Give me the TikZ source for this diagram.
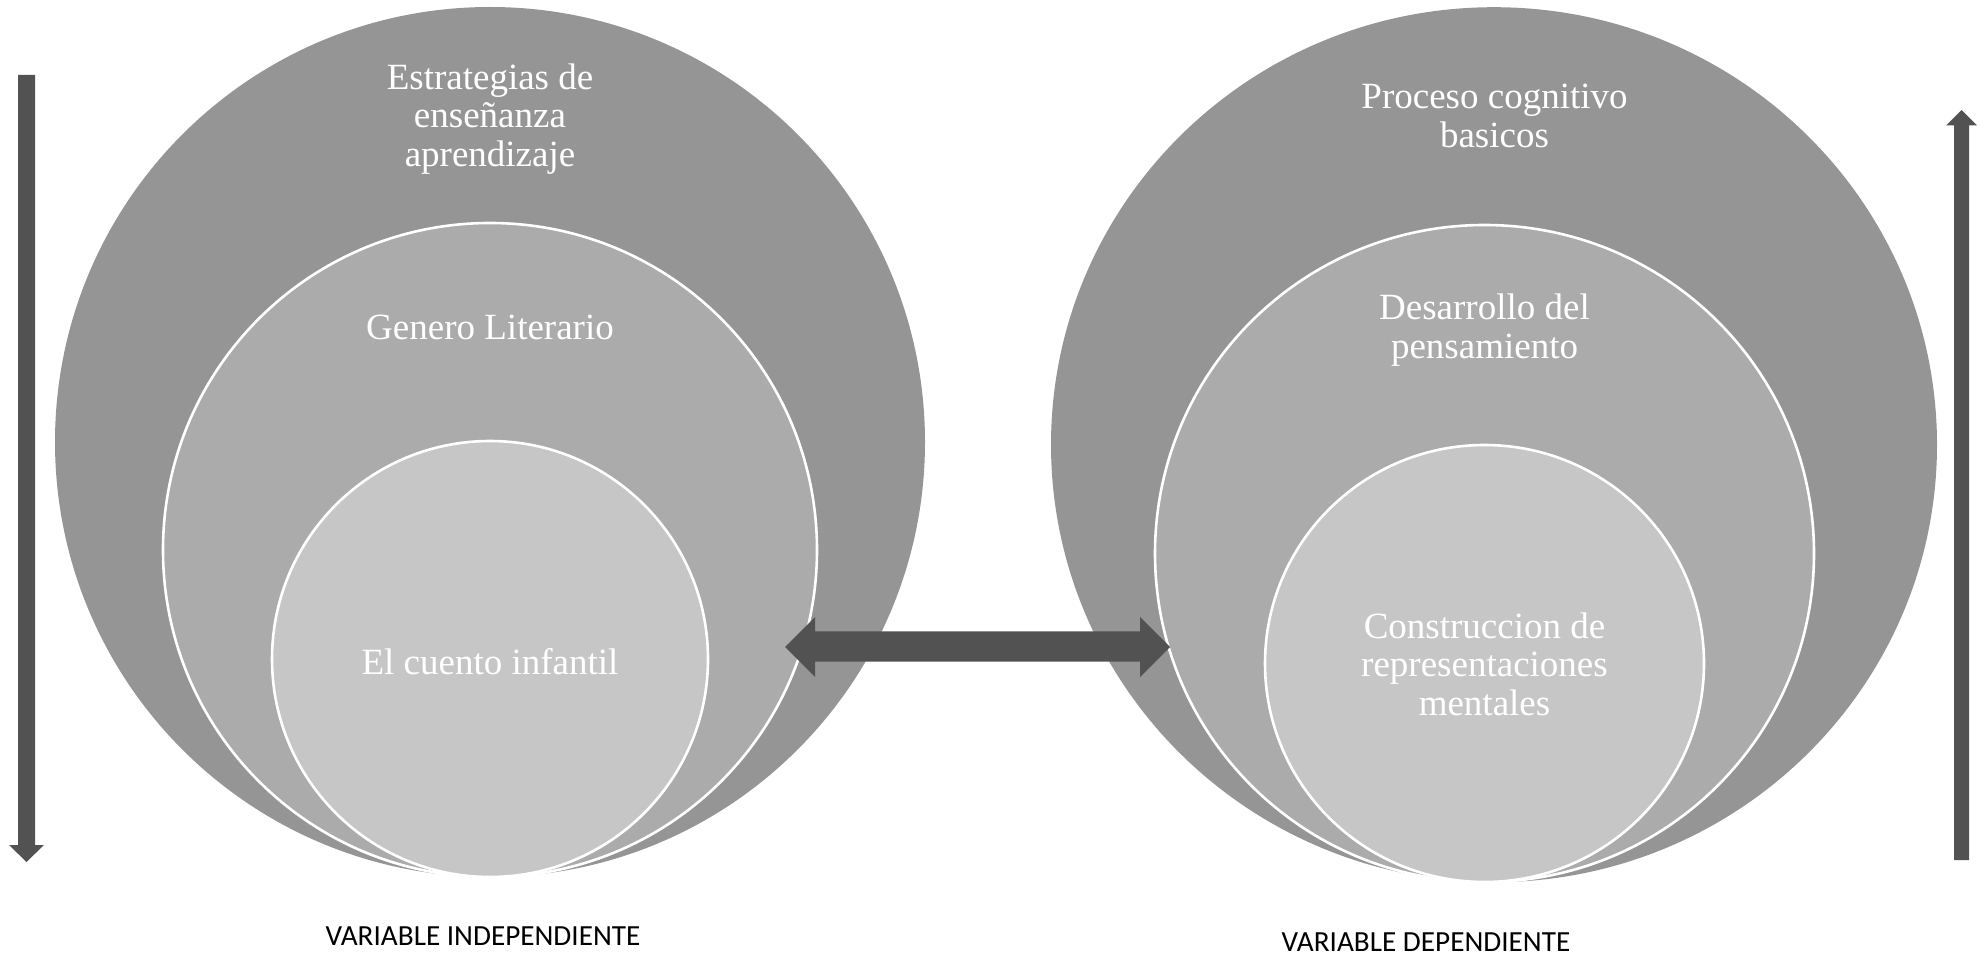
\documentclass[tikz,border=0pt]{standalone}
\usepackage{fontspec}
\setmainfont{Liberation Serif}
\newfontfamily\labelfont{Carlito}
\usetikzlibrary{shapes.geometric}
\definecolor{outerg}{HTML}{959595}
\definecolor{midg}{HTML}{ABABAB}
\definecolor{inng}{HTML}{C6C6C6}
\definecolor{arrg}{HTML}{525252}
\begin{document}
\begin{tikzpicture}[x=0.5pt,y=-0.5pt,
  outerring/.style={ellipse, fill=outerg, inner sep=0pt, draw=none},
  midring/.style={ellipse, fill=midg, inner sep=0pt, draw=white, line width=1.3pt},
  innring/.style={ellipse, fill=inng, inner sep=0pt, draw=white, line width=1.3pt},
  circlabel/.style={text=white, align=center, font=\fontsize{18.5}{19.25}\selectfont, inner sep=0pt},
  varlabel/.style={font=\labelfont\fontsize{14.6}{17}\selectfont, text=black, inner sep=0pt},
  arrowfill/.style={fill=arrg, draw=none}]
\useasboundingbox (0,0) rectangle (1981,956);

% left target
\node (L1) [outerring, minimum width=435pt, minimum height=435pt] at (490,442) {};
\node (L2) [midring, minimum width=327pt, minimum height=327pt] at (490,550) {};
\node (L3) [innring, minimum width=218pt, minimum height=218pt] at (490,659) {};

% right target
\node (R1) [outerring, minimum width=443pt, minimum height=437.5pt] at (1494,444.7) {};
\node (R2) [midring, minimum width=329.5pt, minimum height=328.5pt] at (1484.5,553.5) {};
\node (R3) [innring, minimum width=219.5pt, minimum height=218.5pt] at (1484.5,663.5) {};

% labels
\node (tL1) [circlabel] at (490,119) {Estrategias de\\enseñanza\\aprendizaje};
\node (tL2) [circlabel] at (490,327) {Genero Literario};
\node (tL3) [circlabel] at (490,662) {El cuento infantil};
\node (tR1) [circlabel] at (1494.5,116) {Proceso cognitivo\\basicos};
\node (tR2) [circlabel] at (1484.5,330) {Desarrollo del\\pensamiento};
\node (tR3) [circlabel] at (1484.5,664) {Construccion de\\representaciones\\mentales};

\node (vi) [varlabel] at (483,936) {VARIABLE INDEPENDIENTE};
\node (vd) [varlabel] at (1426,942) {VARIABLE DEPENDIENTE};

% double arrow between the targets
\coordinate (hl) at (785,647);
\coordinate (hr) at (1170,647);
\fill[arrowfill] (hl) -- ++(30,-30) -- ++(0,14.5) -- ++(325,0) -- ++(0,-14.5)
  -- (hr) -- ++(-30,30) -- ++(0,-15.5) -- ++(-325,0) -- ++(0,15.5) -- cycle;

% left downward arrow
\coordinate (dtop) at (26.5,75);
\coordinate (dtip) at (26.5,862);
\fill[arrowfill] (dtip) -- ++(-17.5,-17) -- ++(9,0) -- ++(0,-770) -- ++(17,0)
  -- ++(0,770) -- ++(9,0) -- cycle;

% right upward arrow
\coordinate (ubot) at (1961.5,860);
\coordinate (utip) at (1961.5,110);
\fill[arrowfill] (utip) -- ++(15.5,15.5) -- ++(-8,0) -- ++(0,734.5) -- ++(-15,0)
  -- ++(0,-734.5) -- ++(-8,0) -- cycle;
\end{tikzpicture}
\end{document}
